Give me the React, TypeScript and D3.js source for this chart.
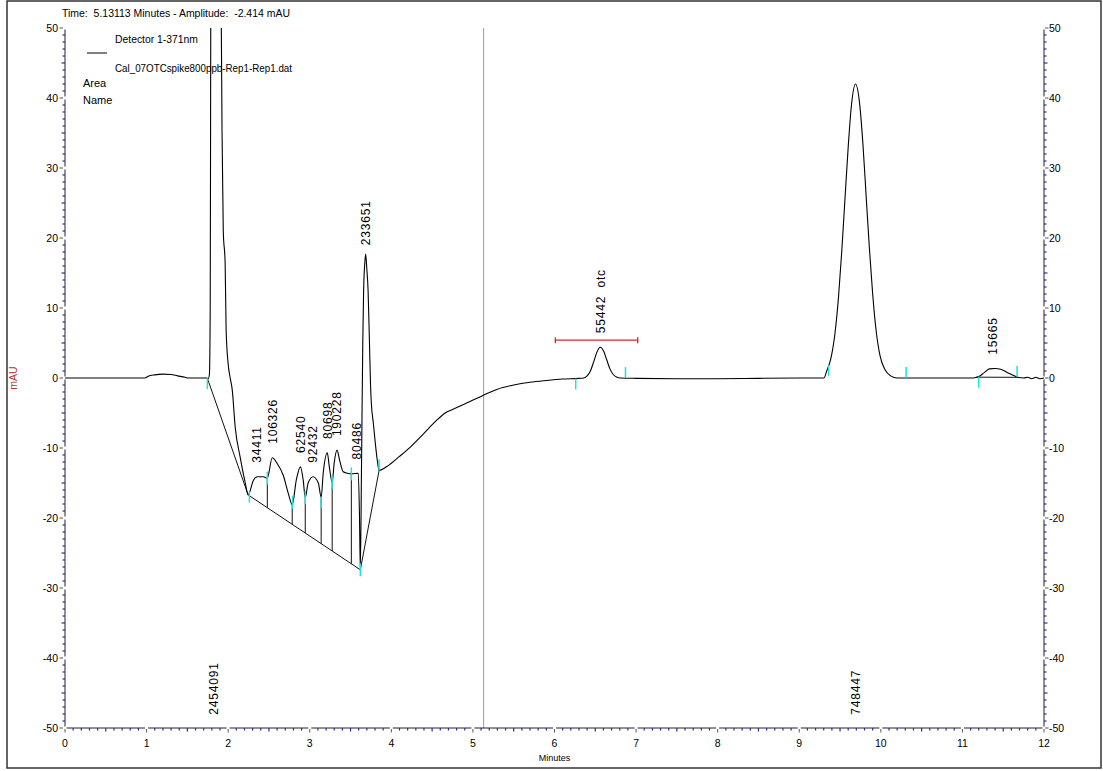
import React from "react";
import * as d3 from "d3";

// ---------- data ----------
const headerText = "Time:  5.13113 Minutes - Amplitude:  -2.414 mAU";
const detectorName = "Detector 1-371nm";
const fileName = "Cal_07OTCspike800ppb-Rep1-Rep1.dat";
const legendRows = ["Area", "Name"];
const cursorTime = 5.13113;

const xTicks = [0, 1, 2, 3, 4, 5, 6, 7, 8, 9, 10, 11, 12];
const yTicks = [-50, -40, -30, -20, -10, 0, 10, 20, 30, 40, 50];

// chromatogram trace: [minutes, mAU]
const trace: [number, number][] = [
  [0, 0], [0.98, 0], [1.02, 0.25], [1.1, 0.45], [1.2, 0.55], [1.3, 0.5], [1.38, 0.3], [1.47, 0.1], [1.5, 0],
  [1.74, 0], [1.755, -0.1], [1.77, 0.5], [1.78, 10], [1.785, 40], [1.79, 70], [1.85, 95], [1.91, 60],
  [1.925, 35], [1.94, 21], [1.963, 16.4], [1.975, 6.9], [2.0, 2], [2.025, 0], [2.05, -1.7], [2.086, -7],
  [2.147, -11.3], [2.21, -15], [2.245, -16.7],
  [2.31, -14.6], [2.355, -14.1], [2.43, -14.1], [2.48, -14.3], [2.54, -11.4], [2.6, -12.2], [2.675, -13.9],
  [2.735, -16.4], [2.785, -18.1], [2.835, -14.6], [2.885, -12.7], [2.92, -14.6], [2.945, -17.1], [2.98, -15],
  [3.04, -14.1], [3.105, -15], [3.14, -17], [3.165, -13.6], [3.215, -10.7], [3.24, -12.7], [3.275, -14.9],
  [3.3, -12.1], [3.335, -10.3], [3.365, -11.7], [3.41, -13.4], [3.46, -13.6], [3.51, -13.7], [3.595, -13.6],
  [3.61, -20], [3.62, -27.4], [3.635, -12], [3.65, 5], [3.66, 12.3], [3.675, 16.5], [3.685, 17.7], [3.7, 15.5],
  [3.715, 12.5], [3.73, 6], [3.745, -1], [3.755, -3.6], [3.78, -6.5], [3.8, -8.9], [3.825, -11.5], [3.85, -13.2],
  [3.95, -12.6], [4.1, -11.2], [4.23, -9.9], [4.4, -7.9], [4.55, -6.1], [4.66, -5.0], [4.75, -4.5], [4.9, -3.7],
  [5.05, -2.9], [5.13, -2.45], [5.3, -1.6], [5.5, -1.0], [5.7, -0.6], [5.9, -0.35], [6.1, -0.15], [6.3, -0.05],
  [6.36, 0], [6.4, 0.3], [6.44, 1.0], [6.48, 2.3], [6.52, 3.7], [6.56, 4.4], [6.6, 3.9], [6.64, 2.6], [6.68, 1.3],
  [6.72, 0.5], [6.76, 0.15], [6.81, 0], [7.0, -0.05], [7.5, -0.1], [8.0, -0.1], [8.5, -0.05], [9.0, 0], [9.3, 0],
  [9.34, 1.1], [9.39, 2.9], [9.44, 6.6], [9.48, 11.4], [9.52, 17.9], [9.56, 25.5], [9.6, 33], [9.64, 39],
  [9.69, 42], [9.74, 39.2], [9.78, 33.5], [9.82, 26], [9.86, 18.5], [9.9, 12], [9.94, 7], [9.99, 3.2],
  [10.05, 1.2], [10.12, 0.3], [10.2, 0], [10.6, 0], [11.0, 0], [11.13, 0], [11.2, 0.2], [11.27, 0.8],
  [11.33, 1.3], [11.4, 1.35], [11.47, 1.25], [11.55, 0.8], [11.62, 0.4], [11.68, 0.1], [11.75, 0],
  [11.8, 0.1], [11.85, -0.1], [11.9, 0.1], [11.95, -0.1], [12, 0],
];

// integration baselines (start, end in minutes)
const baselines: [number, number][] = [
  [1.745, 2.245], [2.245, 3.62], [3.62, 3.85], [11.17, 11.68],
];
// drop lines (minutes) to the baseline
const dropLines = [2.48, 2.785, 2.945, 3.14, 3.275, 3.51];

// peak start/end event marks: time, kind (s=below, e=above, v=centred)
const markTimes = [1.745, 2.26, 2.48, 2.79, 2.945, 3.14, 3.275, 3.51, 3.62, 3.85, 6.26, 6.87, 9.36, 10.31, 11.2, 11.67];
const markKinds = ["s", "s", "v", "v", "v", "s", "v", "v", "v", "e", "s", "e", "s", "e", "s", "e"];

// peak labels (area values) at apex time
const peakTimes = [1.82, 2.355, 2.54, 2.885, 3.04, 3.215, 3.335, 3.57, 3.69, 6.56, 9.69, 11.37];
const peakLabels = ["2454091", "34411", "106326", "62540", "92432", "80698", "190228", "80486", "233651", "55442  otc", "748447", "15665"];

// otc retention window
const otcWindow: [number, number] = [6.01, 7.02];
const otcWindowLevel = 5.4;

// ---------- layout ----------
const W = 1103;
const H = 771;
const X0 = 65, X1 = 1044, Y0 = 28, Y1 = 728;

const x = d3.scaleLinear().domain([0, 12]).range([X0, X1]);
const y = d3.scaleLinear().domain([-50, 50]).range([Y1, Y0]);

function valueAt(t: number): number {
  for (let i = 1; i < trace.length; i++) {
    if (trace[i][0] >= t) {
      const [t0, v0] = trace[i - 1];
      const [t1, v1] = trace[i];
      if (t1 === t0) return v1;
      return v0 + ((v1 - v0) * (t - t0)) / (t1 - t0);
    }
  }
  return trace[trace.length - 1][1];
}

function baselineAt(t: number): number {
  for (const [a, b] of baselines) {
    if (t >= a && t <= b) {
      const va = valueAt(a), vb = valueAt(b);
      return va + ((vb - va) * (t - a)) / (b - a);
    }
  }
  return valueAt(t);
}

const FONT = "'Liberation Sans', Arial, sans-serif";
const BLUE = "#2b2b9a";
const CYAN = "#19e3e3";

export default function App() {
  const line = d3
    .line<[number, number]>()
    .x((d) => x(d[0]))
    .y((d) => y(d[1]))
    .curve(d3.curveMonotoneX);

  const minorY = d3.range(-50, 51, 1).filter((v) => v % 10 !== 0);
  const minorX = d3.range(0, 120, 1).map((i) => i / 10).filter((_, i) => i % 10 !== 0);

  // axis line segments with small gaps at major ticks
  const ySegs = yTicks.slice(0, -1).map((v, i) => [y(v) - 1.5, y(yTicks[i + 1]) + 1.5]);
  const xSegs = xTicks.slice(0, -1).map((v, i) => [x(v) + 1.5, x(xTicks[i + 1]) - 1.5]);

  const labelPx = 7.4; // approx px per char of peak labels
  return (
    <svg
      width={W}
      height={H}
      style={{ position: "absolute", left: 0, top: 0, background: "#fff" }}
      fontFamily={FONT}
    >
      <defs>
        <clipPath id="plot">
          <rect x={X0} y={Y0} width={X1 - X0} height={Y1 - Y0} />
        </clipPath>
      </defs>
      <rect x={0} y={0} width={W} height={H} fill="#fff" />
      <rect x={7} y={1} width={1094} height={767} fill="none" stroke="#333" strokeWidth={1.5} />

      {/* header */}
      <text x={62} y={16.5} fontSize={10.5} textLength={228} lengthAdjust="spacingAndGlyphs" style={{ whiteSpace: "pre" }}>
        {headerText}
      </text>

      {/* cursor line */}
      <line x1={x(cursorTime)} x2={x(cursorTime)} y1={Y0} y2={Y1} stroke="#9a9a9a" strokeWidth={1} />

      {/* left axis */}
      {ySegs.map(([a, b], i) => (
        <line key={"ly" + i} x1={X0} x2={X0} y1={a} y2={b} stroke="#222" strokeWidth={1} />
      ))}
      {minorY.map((v) => (
        <line key={"lmy" + v} x1={v % 5 === 0 ? X0 - 3.5 : X0 - 2.5} x2={X0} y1={y(v)} y2={y(v)} stroke={BLUE} strokeWidth={1.2} />
      ))}
      {yTicks.map((v) => (
        <g key={"lty" + v}>
          <line x1={X0 - 5.5} x2={X0 - 2} y1={y(v)} y2={y(v)} stroke="#555" strokeWidth={1} />
          <text x={X0 - 7} y={y(v) + 3.6} fontSize={10.5} textAnchor="end">
            {v}
          </text>
        </g>
      ))}

      {/* right axis */}
      {ySegs.map(([a, b], i) => (
        <line key={"ry" + i} x1={X1} x2={X1} y1={a} y2={b} stroke="#222" strokeWidth={1} />
      ))}
      {minorY.map((v) => (
        <line key={"rmy" + v} x1={X1} x2={v % 5 === 0 ? X1 + 3.5 : X1 + 2.5} y1={y(v)} y2={y(v)} stroke={BLUE} strokeWidth={1.2} />
      ))}
      {yTicks.map((v) => (
        <g key={"rty" + v}>
          <line x1={X1 + 1} x2={X1 + 4.5} y1={y(v)} y2={y(v)} stroke="#555" strokeWidth={1} />
          <text x={X1 + 5} y={y(v) + 3.6} fontSize={10.5} textAnchor="start">
            {v}
          </text>
        </g>
      ))}

      {/* bottom axis */}
      {xSegs.map(([a, b], i) => (
        <line key={"bx" + i} x1={a} x2={b} y1={Y1} y2={Y1} stroke="#222" strokeWidth={1} />
      ))}
      {minorX.map((v, i) => (
        <line key={"bmx" + i} x1={x(v)} x2={x(v)} y1={Y1} y2={Math.round(v * 10) % 5 === 0 ? Y1 + 3.5 : Y1 + 2.5} stroke={BLUE} strokeWidth={1.2} />
      ))}
      {xTicks.map((v) => (
        <g key={"btx" + v}>
          <line x1={x(v)} x2={x(v)} y1={Y1 + 1} y2={Y1 + 4.5} stroke="#555" strokeWidth={1} />
          <text x={x(v)} y={Y1 + 19} fontSize={10.5} textAnchor="middle">
            {v}
          </text>
        </g>
      ))}
      <text x={(X0 + X1) / 2} y={761} fontSize={9} textAnchor="middle">
        Minutes
      </text>
      <text transform={`translate(17,${y(0)}) rotate(-90)`} fontSize={10.5} textAnchor="middle" fill="#b03030">
        mAU
      </text>

      {/* legend */}
      <line x1={87} x2={107} y1={53} y2={53} stroke="#000" strokeWidth={1} />
      <text x={115} y={43} fontSize={10.5} textLength={83} lengthAdjust="spacingAndGlyphs">
        {detectorName}
      </text>
      <text x={115} y={72} fontSize={10.5} textLength={177} lengthAdjust="spacingAndGlyphs">
        {fileName}
      </text>
      {legendRows.map((r, i) => (
        <text key={r} x={83} y={87 + i * 16.5} fontSize={11}>
          {r}
        </text>
      ))}

      <g clipPath="url(#plot)">
        {/* baselines */}
        {baselines.map(([a, b], i) => (
          <line key={"bl" + i} x1={x(a)} x2={x(b)} y1={y(valueAt(a))} y2={y(valueAt(b))} stroke="#111" strokeWidth={1} />
        ))}
        {dropLines.map((t, i) => (
          <line key={"dl" + i} x1={x(t)} x2={x(t)} y1={y(valueAt(t))} y2={y(baselineAt(t))} stroke="#111" strokeWidth={1} />
        ))}
        {/* trace */}
        <path d={line(trace) || ""} fill="none" stroke="#000" strokeWidth={1.1} strokeLinejoin="round" />
        {/* event marks */}
        {markTimes.map((t, i) => {
          const v = y(valueAt(t));
          const k = markKinds[i];
          const len = 11;
          const y1 = k === "s" ? v : k === "e" ? v - len : v - len / 2 - 1;
          const y2 = k === "s" ? v + len : k === "e" ? v : v + len / 2 + 1;
          return <line key={"mk" + i} x1={x(t)} x2={x(t)} y1={y1} y2={y2} stroke={CYAN} strokeWidth={1.5} />;
        })}
        {/* otc window */}
        <g stroke="#e02020" strokeWidth={1.3}>
          <line x1={x(otcWindow[0])} x2={x(otcWindow[1])} y1={y(otcWindowLevel)} y2={y(otcWindowLevel)} />
          <line x1={x(otcWindow[0])} x2={x(otcWindow[0])} y1={y(otcWindowLevel) - 3} y2={y(otcWindowLevel) + 3} />
          <line x1={x(otcWindow[1])} x2={x(otcWindow[1])} y1={y(otcWindowLevel) - 3} y2={y(otcWindowLevel) + 3} />
        </g>
      </g>

      {/* peak labels */}
      {peakTimes.map((t, i) => {
        const lbl = peakLabels[i];
        const apex = valueAt(t);
        const len = lbl.length * labelPx;
        let bottom = y(apex) - 14;
        if (apex > 50 || bottom - len < Y0) bottom = y(-48.1);
        return (
          <text
            key={"pl" + i}
            transform={`translate(${x(t)},${bottom}) rotate(-90)`}
            fontSize={12}
            dy="0.36em"
            letterSpacing={0.8}
            style={{ whiteSpace: "pre" }}
          >
            {lbl}
          </text>
        );
      })}
    </svg>
  );
}
